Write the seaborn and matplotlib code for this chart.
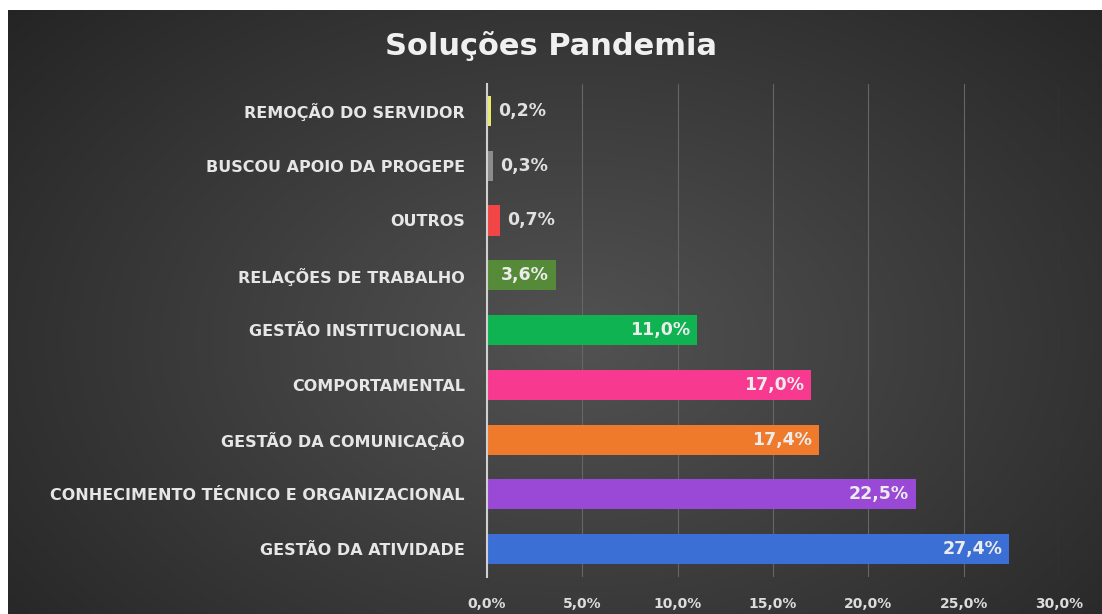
import numpy as np
import pandas as pd
import seaborn as sns
import matplotlib
matplotlib.use('Agg')
from matplotlib import pyplot as plt
from matplotlib.ticker import FuncFormatter

categorias = ['REMOÇÃO DO SERVIDOR', 'BUSCOU APOIO DA PROGEPE', 'OUTROS',
              'RELAÇÕES DE TRABALHO', 'GESTÃO INSTITUCIONAL', 'COMPORTAMENTAL',
              'GESTÃO DA COMUNICAÇÃO', 'CONHECIMENTO TÉCNICO E ORGANIZACIONAL',
              'GESTÃO DA ATIVIDADE']
percentuais = [0.2, 0.3, 0.7, 3.6, 11.0, 17.0, 17.4, 22.5, 27.4]
cores = ['#eaea6a', '#8c8c8c', '#f24646', '#558a38', '#0fb352', '#f7398f',
         '#f07a2c', '#9a48d6', '#3b6fd6']
ticks_x = [0, 5, 10, 15, 20, 25, 30]

df = pd.DataFrame({'categoria': categorias, 'valor': percentuais})

sns.set_style('dark')
plt.rcParams['font.family'] = ['DejaVu Sans']

fig = plt.figure(figsize=(11.02, 6.14), dpi=100, facecolor='white')

# fundo escuro com gradiente radial
bg = fig.add_axes([8 / 1102, 0, 1 - 8 / 1102, 1 - 10 / 614])
yy, xx = np.mgrid[0:1:300j, 0:1:500j]
r = np.sqrt(((xx - 0.52) / 0.7) ** 2 + ((yy - 0.55) / 0.85) ** 2)
bg.imshow(np.clip(r, 0, 1), cmap=sns.blend_palette(['#525252', '#242424'], as_cmap=True),
          aspect='auto', extent=[0, 1, 0, 1], vmin=0, vmax=1)
bg.axis('off')

ax = fig.add_axes([487 / 1102, 0.061, (1059 - 487) / 1102, 0.803])
ax.set_facecolor('none')
sns.barplot(data=df, x='valor', y='categoria', hue='categoria', palette=cores,
            order=categorias, width=0.55, saturation=1, linewidth=0,
            legend=False, ax=ax, zorder=3)

ax.set_xlim(0, 30)
ax.set_xticks(ticks_x)
ax.xaxis.set_major_formatter(FuncFormatter(lambda v, p: '{:.1f}%'.format(v).replace('.', ',')))
ax.grid(axis='x', color='#666666', linewidth=0.8, zorder=0)
ax.grid(axis='y', visible=False)
for s in ['top', 'right', 'bottom']:
    ax.spines[s].set_visible(False)
ax.spines['left'].set_color('#d0d0d0')
ax.spines['left'].set_linewidth(1.5)
ax.spines['left'].set_zorder(4)
ax.set_xlabel('')
ax.set_ylabel('')
ax.tick_params(axis='y', length=0, pad=16, labelsize=11.5, labelcolor='#e6e6e6')
ax.tick_params(axis='x', length=0, pad=15, labelsize=10, labelcolor='#dcdcdc')
for lab in ax.get_yticklabels() + ax.get_xticklabels():
    lab.set_fontweight('bold')

for i, v in enumerate(percentuais):
    txt = '{:.1f}%'.format(v).replace('.', ',')
    if v >= 3:
        ax.annotate(txt, (v, i), xytext=(-5, 0), textcoords='offset points',
                    ha='right', va='center', fontsize=12.5, fontweight='bold',
                    color='#ececec', zorder=5)
    else:
        ax.annotate(txt, (v, i), xytext=(5, 0), textcoords='offset points',
                    ha='left', va='center', fontsize=12.5, fontweight='bold',
                    color='#e0e0e0', zorder=5)

fig.text(0.5, 0.925, 'Soluções Pandemia', ha='center', va='center',
         fontsize=22, fontweight='bold', color='#f0f0f0')

fig.savefig('out.png', dpi=100, facecolor=fig.get_facecolor())
